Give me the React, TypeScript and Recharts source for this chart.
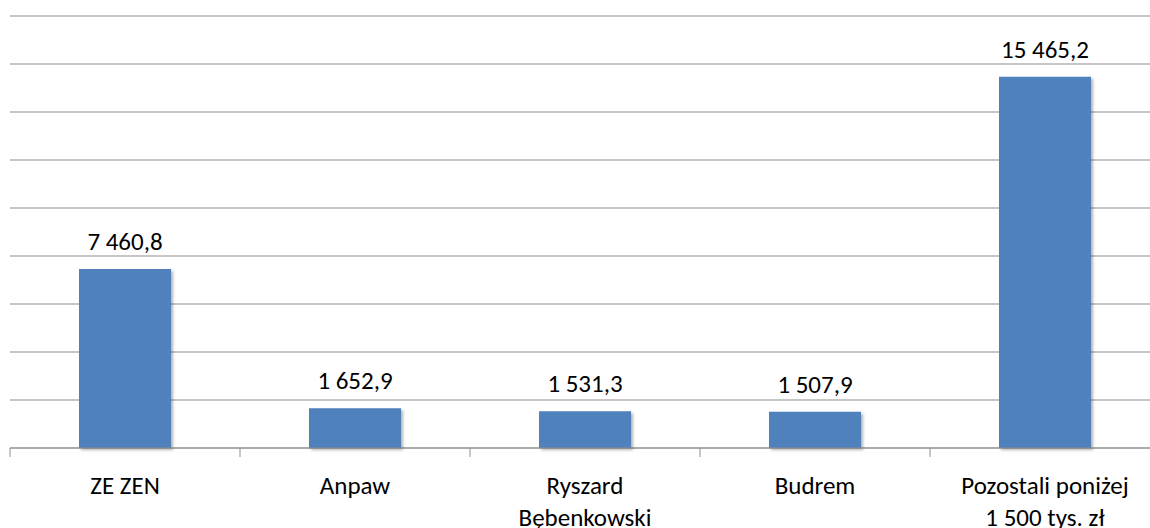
import { BarChart, Bar, XAxis, YAxis, CartesianGrid, LabelList } from "recharts";

const categories = ["ZE ZEN", "Anpaw", "Ryszard\nBębenkowski", "Budrem", "Pozostali poniżej\n1 500 tys. zł"];
const values = [7460.8, 1652.9, 1531.3, 1507.9, 15465.2];
const yTicks = [0, 2000, 4000, 6000, 8000, 10000, 12000, 14000, 16000, 18000];

const data = categories.map((name, i) => ({ name, value: values[i] }));

const FONT = "Carlito, Calibri, Lato, sans-serif";
const GRID = "#8e8e8e";

// Polish style: space as thousands separator, comma as decimal
function plNumber(v: number) {
  const [int, dec] = v.toFixed(1).split(".");
  return int.replace(/\B(?=(\d{3})+(?!\d))/g, " ") + "," + dec;
}

// category label plus tick marks on the category boundaries
function CategoryTick(props: any) {
  const { x, y, payload, index } = props;
  const half = payload.offset ?? 115;
  const lines = String(payload.value).split("\n");
  const last = index === categories.length - 1;
  return (
    <g>
      <line x1={x - half} x2={x - half} y1={y} y2={y + 9} stroke={GRID} />
      {last && <line x1={x + half} x2={x + half} y1={y} y2={y + 9} stroke={GRID} />}
      <text x={x} y={y} textAnchor="middle" fill="#000" fontSize={25} fontFamily={FONT}>
        {lines.map((l, i) => (
          <tspan key={i} x={x} dy={i === 0 ? 46 : 32}>
            {l}
          </tspan>
        ))}
      </text>
    </g>
  );
}

export default function App() {
  // fixed box so the page never scrolls; the last category runs past the right edge
  return (
    <div style={{ position: "fixed", left: 0, top: 0, width: 1150, height: 528, overflow: "hidden", background: "#fff" }}>
      <BarChart
        width={1160}
        height={528}
        data={data}
        margin={{ top: 16, right: 0, left: 10, bottom: 0 }}
        barCategoryGap="30%"
      >
        <defs>
          <filter id="shadow" x="-10%" y="-10%" width="130%" height="130%">
            <feDropShadow dx="2" dy="2" stdDeviation="1.5" floodColor="#000" floodOpacity="0.3" />
          </filter>
        </defs>
        <CartesianGrid vertical={false} stroke={GRID} strokeWidth={1.2} />
        <YAxis hide domain={[0, 18000]} ticks={yTicks} />
        <XAxis
          dataKey="name"
          interval={0}
          tickLine={false}
          tickSize={0}
          tickMargin={0}
          height={80}
          axisLine={{ stroke: GRID, strokeWidth: 1.2 }}
          tick={<CategoryTick />}
        />
        <Bar dataKey="value" fill="#4f81bd" filter="url(#shadow)" isAnimationActive={false}>
          <LabelList
            dataKey="value"
            position="top"
            offset={19}
            formatter={(v: any) => plNumber(Number(v))}
            fill="#000"
            fontSize={25}
            fontFamily={FONT}
          />
        </Bar>
      </BarChart>
    </div>
  );
}
